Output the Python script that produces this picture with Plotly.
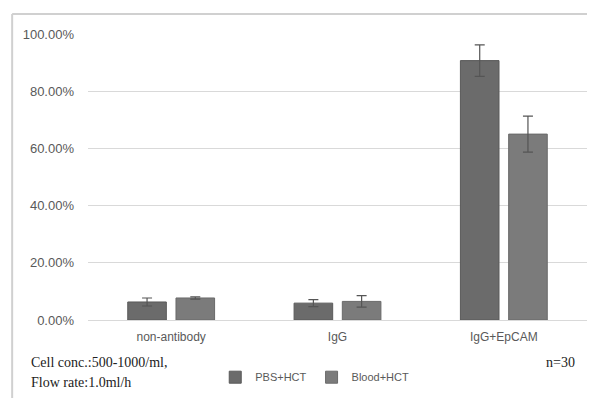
import plotly.graph_objects as go

categories = ["non-antibody", "IgG", "IgG+EpCAM"]
pbs_values = [6.3, 5.9, 90.7]
pbs_errors = [1.4, 1.2, 5.5]
blood_values = [7.7, 6.5, 65.0]
blood_errors = [0.4, 2.0, 6.3]
y_ticks = [0, 20, 40, 60, 80, 100]
y_tick_labels = ["0.00%", "20.00%", "40.00%", "60.00%", "80.00%", "100.00%"]

fig = go.Figure()
fig.add_trace(go.Bar(
    name="PBS+HCT", x=categories, y=pbs_values,
    marker=dict(color="#6b6b6b", line=dict(color="#5a5a5a", width=1)),
    error_y=dict(type="data", array=pbs_errors, color="#555555", thickness=1.2, width=5),
))
fig.add_trace(go.Bar(
    name="Blood+HCT", x=categories, y=blood_values,
    marker=dict(color="#7b7b7b", line=dict(color="#6a6a6a", width=1)),
    error_y=dict(type="data", array=blood_errors, color="#555555", thickness=1.2, width=5),
))

# the page body has an 8px margin, so the figure is drawn 8px smaller and shifted
fig.update_layout(
    width=587, height=390,
    margin=dict(l=80, r=8, t=26, b=78, autoexpand=False),
    paper_bgcolor="white", plot_bgcolor="white",
    barmode="group", bargap=0.42, bargroupgap=0.2,
    font=dict(family="Liberation Sans", size=12, color="#595959"),
    showlegend=True,
    legend=dict(orientation="h", x=0.255, y=-0.2, xref="paper", yref="paper",
                xanchor="left", yanchor="middle", font=dict(size=11, color="#595959"),
                itemwidth=30, tracegroupgap=0, bgcolor="rgba(0,0,0,0)"),
    xaxis=dict(showgrid=False, showline=True, linecolor="#d9d9d9", linewidth=1,
               ticks="", tickfont=dict(size=12, color="#595959"), ticklabelstandoff=6),
    yaxis=dict(range=[0, 100], tickvals=y_ticks, ticktext=y_tick_labels,
               showgrid=True, gridcolor="#d9d9d9", gridwidth=1, zeroline=False,
               showline=False, ticks="", ticklabelstandoff=13,
               tickfont=dict(size=13, color="#595959")),
    shapes=[
        dict(type="line", xref="paper", yref="paper", x0=-0.152, x1=1.02, y0=1.07, y1=1.07,
             line=dict(color="#d0d0d0", width=2)),
        dict(type="line", xref="paper", yref="paper", x0=-0.152, x1=-0.152, y0=1.07, y1=-0.3,
             line=dict(color="#d0d0d0", width=2)),
    ],
    annotations=[
        dict(text="Cell conc.:500-1000/ml,", xref="paper", yref="paper", x=-0.118, y=-0.147,
             xanchor="left", yanchor="middle", showarrow=False,
             font=dict(family="Liberation Serif", size=14, color="#222222")),
        dict(text="Flow rate:1.0ml/h", xref="paper", yref="paper", x=-0.118, y=-0.22,
             xanchor="left", yanchor="middle", showarrow=False,
             font=dict(family="Liberation Serif", size=14, color="#222222")),
        dict(text="n=30", xref="paper", yref="paper", x=0.914, y=-0.15,
             xanchor="left", yanchor="middle", showarrow=False,
             font=dict(family="Liberation Serif", size=14, color="#222222")),
    ],
)

fig.write_html("out.html")
